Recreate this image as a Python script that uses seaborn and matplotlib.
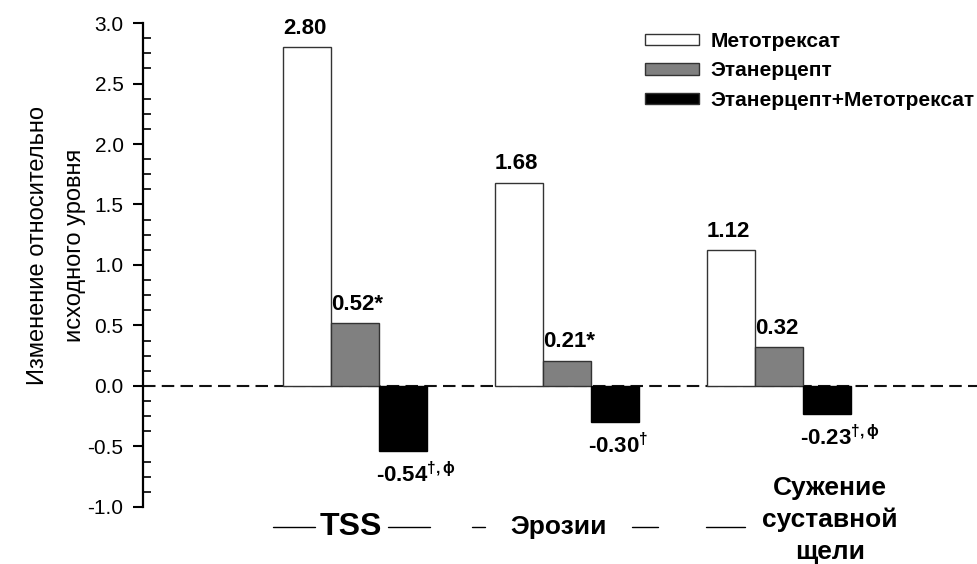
import numpy as np
import pandas as pd
import seaborn as sns
import matplotlib.pyplot as plt
from matplotlib.ticker import MultipleLocator, AutoMinorLocator

# данные
categories = ["TSS", "Эрозии", "Сужение\nсуставной\nщели"]
groups = ["Метотрексат", "Этанерцепт", "Этанерцепт+Метотрексат"]
metotrexat = [2.80, 1.68, 1.12]
etanercept = [0.52, 0.21, 0.32]
combo = [-0.54, -0.30, -0.23]
value_labels = [
    ["2.80", "1.68", "1.12"],
    ["0.52*", "0.21*", "0.32"],
    [r"-0.54$^{\dagger,\phi}$", r"-0.30$^{\dagger}$", r"-0.23$^{\dagger,\phi}$"],
]
colors = {"Метотрексат": "white", "Этанерцепт": "#808080",
          "Этанерцепт+Метотрексат": "black"}

df = pd.DataFrame({
    "cat": categories * 3,
    "grp": np.repeat(groups, 3),
    "val": metotrexat + etanercept + combo,
})

sns.set_style("ticks")
plt.rcParams["font.family"] = ["Liberation Sans", "DejaVu Sans"]
plt.rcParams["mathtext.default"] = "regular"
plt.rcParams["text.color"] = "black"
plt.rcParams["axes.labelcolor"] = "black"
plt.rcParams["ytick.color"] = "black"
plt.rcParams["axes.edgecolor"] = "black"

fig = plt.figure(figsize=(9.78, 5.64), dpi=100)
ax = fig.add_axes([0.1462, 0.1011, 0.8538, 0.8581])

sns.barplot(data=df, x="cat", y="val", hue="grp", order=categories,
            hue_order=groups, palette=colors, saturation=1, width=0.68,
            edgecolor="#333333", linewidth=1, ax=ax)

for bar in ax.containers[2]:
    bar.set_edgecolor("black")

# подписи значений
for cont, labs in zip(ax.containers, value_labels):
    for bar, lab in zip(cont, labs):
        h = bar.get_height()
        if h >= 0:
            ax.annotate(lab, (bar.get_x(), h), xytext=(0, 6),
                        textcoords="offset points", ha="left", va="bottom",
                        fontsize=16, fontweight="bold", annotation_clip=False)
        else:
            ax.annotate(lab, (bar.get_x(), h), xytext=(-2, -8),
                        textcoords="offset points", ha="left", va="top",
                        fontsize=16, fontweight="bold", annotation_clip=False)

ax.axhline(0, color="#111111", lw=1.5, ls=(0, (6, 3)), zorder=0.5)

ax.set_xlim(-1.0, 2.94)
ax.set_ylim(-1.0, 3.0)
ax.yaxis.set_major_locator(MultipleLocator(0.5))
ax.yaxis.set_minor_locator(AutoMinorLocator(4))
ax.yaxis.set_major_formatter(plt.FormatStrFormatter("%.1f"))
ax.tick_params(axis="y", which="major", direction="out", length=7, width=1.5,
               labelsize=15, pad=7, colors="black")
ax.tick_params(axis="y", which="minor", direction="in", length=6, width=1.2,
               colors="black")
ax.set_xticks([])
ax.set_xlabel("")
ax.set_ylabel("Изменение относительно\nисходного уровня", fontsize=17,
              linespacing=1.9)
ax.yaxis.set_label_coords(-0.068, 0.541)
for s in ["top", "right", "bottom"]:
    ax.spines[s].set_visible(False)
ax.spines["left"].set_linewidth(1.6)

# подписи категорий
cat_dx = [-0.02, -0.04, 0.24]
cat_y = [-1.165, -1.165, -1.107]
cat_size = [23, 19, 19]
for i, (lab, dx, y, fs) in enumerate(zip(categories, cat_dx, cat_y, cat_size)):
    ax.text(i + dx, y, lab, ha="center", va="center", fontsize=fs,
            fontweight="bold", linespacing=1.4, clip_on=False)

# обрывки линии под подписями
decor = [(-0.387, -0.189), (0.156, 0.354), (0.552, 0.613),
         (1.307, 1.429), (1.656, 1.840)]
for x0, x1 in decor:
    ax.plot([x0, x1], [-1.165, -1.165], color="black", lw=1, clip_on=False)

# легенда
old = ax.get_legend()
handles = old.legend_handles
labels = [t.get_text() for t in old.get_texts()]
old.remove()
for h in handles:
    h.set_edgecolor("#333333")
leg = ax.legend(handles, labels, loc="upper left",
                bbox_to_anchor=(645 / 978, 1 - 32 / 564),
                bbox_transform=fig.transFigure, frameon=False, borderpad=0,
                borderaxespad=0, handlelength=2.6, handleheight=0.45,
                handletextpad=0.55, labelspacing=0.5,
                prop={"size": 15, "weight": "bold"})

fig.savefig("out.png", dpi=100)
